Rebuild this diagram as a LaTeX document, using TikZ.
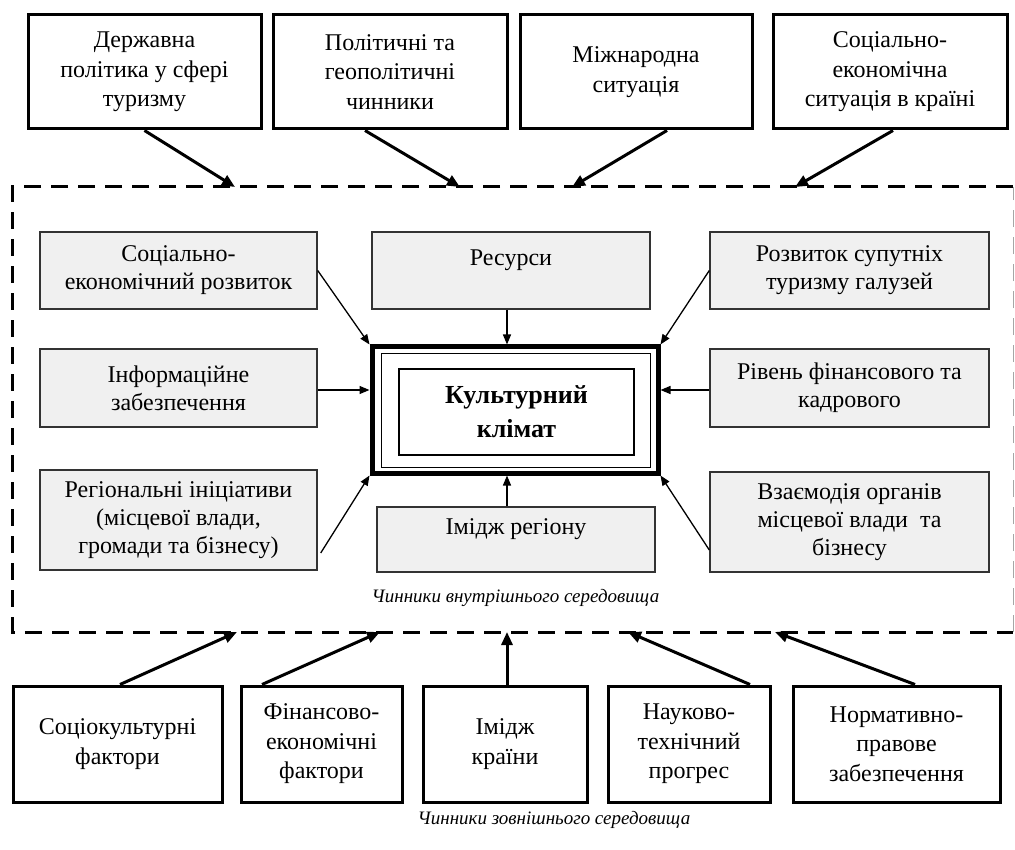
\documentclass[tikz,border=0pt]{standalone}
\usepackage{fontspec}
\setmainfont{Liberation Serif}
\usetikzlibrary{arrows.meta}
\begin{document}
\begin{tikzpicture}[x=1pt,y=-1pt,
 extbox/.style={draw=black, line width=3pt, align=center, inner sep=0pt, font=\fontsize{24}{29.5}\selectfont},
 intbox/.style={draw=black!80, line width=1.4pt, fill=black!6, align=center, inner sep=0pt, font=\fontsize{24}{28}\selectfont},
 bigarrow/.style={line width=3pt, -{Triangle[length=13pt,width=11pt]}},
 smallarrow/.style={line width=1.3pt, -{Triangle[length=10pt,width=8pt]}},
 envlabel/.style={inner sep=0pt, font=\fontsize{19}{22}\selectfont\itshape},
 envline/.style={line width=3pt, dash pattern=on 17pt off 10pt},
 lift/.style={}
]
\fill[white] (0,0) rectangle (1015,850);
\useasboundingbox (0,0) rectangle (1015,850);

% external top
\node[extbox, minimum width=233pt, minimum height=114pt] (t1) at (144.5,72) {Державна\\політика у сфері\\туризму};
\node[extbox, minimum width=234pt, minimum height=114pt] (t2) at (390,72) {Політичні та\\геополітичні\\чинники};
\node[extbox, minimum width=232pt, minimum height=114pt] (t3) at (636,72) {Міжнародна\\ситуація};
\node[extbox, minimum width=234pt, minimum height=114pt] (t4) at (890,72) {Соціально-\\економічна\\ситуація в країні};

% environment frame
\node[minimum width=1000pt, minimum height=445pt, inner sep=0pt] (env) at (513,409.5) {};
\draw[envline] (env.north east) -- (env.north west) -- (env.south west) -- (env.south east);
\draw[line width=1pt, black!35, dash pattern=on 17pt off 10pt] (env.south east) -- (env.north east);

\coordinate (a1) at (235,187);
\coordinate (a2) at (460,187);
\coordinate (a3) at (572,187);
\coordinate (a4) at (795,187);
\draw[bigarrow] (t1.south) -- (a1);
\draw[bigarrow] ([xshift=-25pt]t2.south) -- (a2);
\draw[bigarrow] ([xshift=31pt]t3.south) -- (a3);
\draw[bigarrow] ([xshift=3pt]t4.south) -- (a4);

% internal boxes
\node[intbox, minimum width=277pt, minimum height=77pt] (l1) at (178.5,270.5) {Соціально-\\економічний розвиток};
\node[intbox, minimum width=277pt, minimum height=78pt] (l2) at (178.5,388) {Інформаційне\\забезпечення};
\node[intbox, minimum width=277pt, minimum height=100pt] (l3) at (178.5,520) {Регіональні ініціативи\\(місцевої влади,\\громади та бізнесу)};
\node[intbox, minimum width=278pt, minimum height=77pt] (c1) at (511,270.5) {\raisebox{10pt}[\height][\depth]{Ресурси}};
\node[intbox, minimum width=279pt, minimum height=77pt] (r1) at (849.5,270.5) {Розвиток супутніх\\туризму галузей};
\node[intbox, minimum width=279pt, minimum height=78pt] (r2) at (849.5,388) {Рівень фінансового та\\кадрового};
\node[intbox, minimum width=279pt, minimum height=100pt] (r3) at (849.5,522) {Взаємодія органів\\місцевої влади~~та\\бізнесу};
\node[intbox, minimum width=278pt, minimum height=65pt] (c3) at (516,539.5) {\raisebox{10pt}[\height][\depth]{Імідж регіону}};

% central
\node[draw=black, line width=5pt, minimum width=286pt, minimum height=126pt, inner sep=0pt] (frame) at (515,410) {};
\node[draw=black, line width=1pt, minimum width=269pt, minimum height=113pt, inner sep=0pt] (frame2) at (515.5,410.5) {};
\node[draw=black, line width=2pt, minimum width=235pt, minimum height=86pt, inner sep=0pt, align=center, font=\fontsize{26}{34}\selectfont\bfseries] (klim) at (516.5,412) {Культурний\\клімат};

\draw[smallarrow] (l1.east) -- (frame.north west);
\draw[smallarrow] ([xshift=-4pt]c1.south) -- ([xshift=-4pt]c1.south |- frame.north);
\draw[smallarrow] (r1.west) -- (frame.north east);
\draw[smallarrow] ([yshift=-2pt]l2.east) -- ([yshift=-2pt]l2.east -| frame.west);
\draw[smallarrow] ([yshift=-2pt]r2.west) -- ([yshift=-2pt]r2.west -| frame.east);
\draw[smallarrow] ([xshift=3pt,yshift=-33pt]l3.east) -- (frame.south west);
\draw[smallarrow] ([xshift=-9pt]c3.north) -- ([xshift=-9pt]c3.north |- frame.south);
\draw[smallarrow] ([yshift=-28pt]r3.west) -- (frame.south east);

\node[envlabel] (inlab) at (515.5,598) {Чинники внутрішнього середовища};

% external bottom
\node[extbox, minimum width=209pt, minimum height=116pt] (b1) at (117.5,744) {Соціокультурні\\фактори};
\node[extbox, minimum width=161pt, minimum height=116pt] (b2) at (321.5,744) {Фінансово-\\економічні\\фактори};
\node[extbox, minimum width=164pt, minimum height=116pt] (b3) at (505,744) {Імідж\\країни};
\node[extbox, minimum width=162pt, minimum height=116pt] (b4) at (689,744) {Науково-\\технічний\\прогрес};
\node[extbox, minimum width=207pt, minimum height=116pt] (b5) at (896.5,744) {Нормативно-\\правове\\забезпечення};

\coordinate (e1) at (237,632);
\coordinate (e2) at (380,632);
\coordinate (e3) at (507,632);
\coordinate (e4) at (628,632);
\coordinate (e5) at (775,632);
\draw[bigarrow] ([xshift=2.5pt]b1.north) -- (e1);
\draw[bigarrow] ([xshift=-59.5pt]b2.north) -- (e2);
\draw[bigarrow] ([xshift=2pt]b3.north) -- (e3);
\draw[bigarrow] ([xshift=61pt]b4.north) -- (e4);
\draw[bigarrow] ([xshift=18.5pt]b5.north) -- (e5);

\node[envlabel] (exlab) at (554,820) {Чинники зовнішнього середовища};
\end{tikzpicture}
\end{document}
